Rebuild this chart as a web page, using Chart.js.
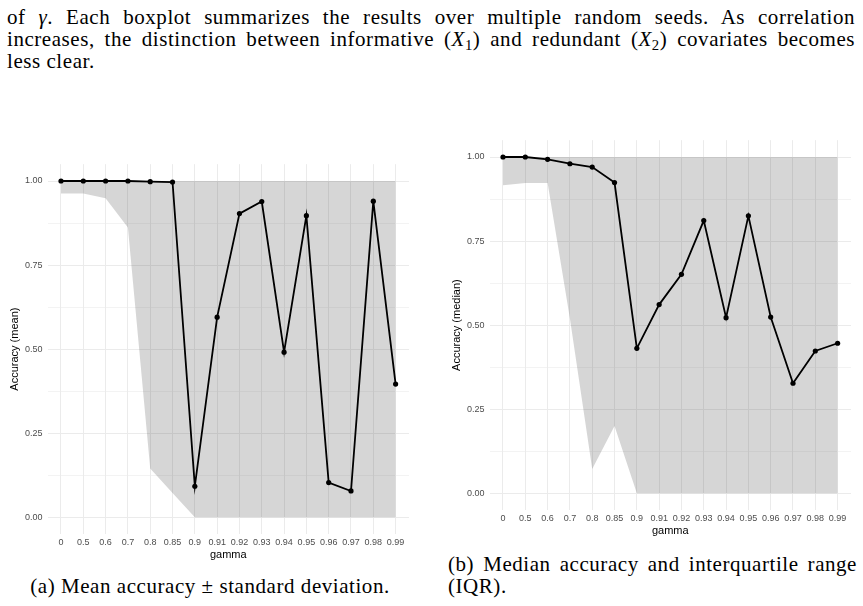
<!DOCTYPE html>
<html>
<head>
<meta charset="utf-8">
<script src="https://cdn.jsdelivr.net/npm/chart.js@4"></script>
<style>
  html, body { margin: 0; padding: 0; background: #fff; overflow: hidden; }
  body { width: 863px; height: 606px; position: relative; font-family: "Liberation Serif", serif; font-size: 21px; color: #000; }
  .txt { position: absolute; line-height: 22px; letter-spacing: 0.55px; }
  .just { text-align: justify; text-align-last: justify; }
  sub { font-size: 0.7em; line-height: 0; vertical-align: baseline; position: relative; top: 0.28em; }
  canvas { position: absolute; }
</style>
</head>
<body>
<div class="txt" style="left:7px; top:6px; width:848px;">
  <div class="just">of <i>γ</i>. Each boxplot summarizes the results over multiple random seeds. As correlation</div>
  <div class="just">increases, the distinction between informative (<i>X</i><sub>1</sub>) and redundant (<i>X</i><sub>2</sub>) covariates becomes</div>
  <div>less clear.</div>
</div>

<canvas id="meanChart" width="421" height="424" style="left:0; top:140px;"></canvas>
<canvas id="medianChart" width="421" height="424" style="left:442px; top:116px;"></canvas>

<div class="txt" style="left:10px; top:575px; width:400px; text-align:center;">(a) Mean accuracy ± standard deviation.</div>
<div class="txt" style="left:448px; top:553px; width:409px;">
  <div class="just">(b) Median accuracy and interquartile range</div>
  <div>(IQR).</div>
</div>

<script>
const gammaLabels = ['0', '0.5', '0.6', '0.7', '0.8', '0.85', '0.9', '0.91', '0.92', '0.93', '0.94', '0.95', '0.96', '0.97', '0.98', '0.99'];

// (a) mean accuracy, ribbon = mean +/- sd clipped to [0, 1]
const meanAcc   = [1.00, 1.00, 1.00, 1.00, 0.998, 0.997, 0.092, 0.595, 0.903, 0.939, 0.491, 0.897, 0.103, 0.078, 0.940, 0.396];
const meanLower = [0.963, 0.963, 0.949, 0.862, 0.145, 0.072, 0, 0, 0, 0, 0, 0, 0, 0, 0, 0];
const meanUpper = [1, 1, 1, 1, 1, 1, 1, 1, 1, 1, 1, 1, 1, 1, 1, 1];

// (b) median accuracy, ribbon = IQR
const medianAcc = [1.00, 1.00, 0.993, 0.980, 0.970, 0.924, 0.431, 0.561, 0.651, 0.811, 0.522, 0.825, 0.524, 0.327, 0.423, 0.446];
const iqrLower  = [0.916, 0.923, 0.923, 0.52, 0.072, 0.20, 0, 0, 0, 0, 0, 0, 0, 0, 0, 0];
const iqrUpper  = [1, 1, 1, 1, 1, 1, 1, 1, 1, 1, 1, 1, 1, 1, 1, 1];

const yMajor = [0, 0.25, 0.5, 0.75, 1];
const yAll = [0, 0.125, 0.25, 0.375, 0.5, 0.625, 0.75, 0.875, 1];

Chart.defaults.font.family = "'Liberation Sans', Arial, sans-serif";

function pts(vals) {
  return vals.map((v, i) => ({ x: i, y: v }));
}

function makeChart(id, yTitle, centre, lower, upper) {
  new Chart(document.getElementById(id), {
    type: 'line',
    data: {
      datasets: [
        {
          data: pts(centre),
          borderColor: '#000',
          backgroundColor: '#000',
          borderWidth: 1.8,
          pointRadius: 2.6,
          pointBorderWidth: 0,
          pointBackgroundColor: '#000',
          fill: false
        },
        { data: pts(upper), borderWidth: 0, pointRadius: 0, fill: false },
        { data: pts(lower), borderWidth: 0, pointRadius: 0, fill: '-1', backgroundColor: 'rgba(51,51,51,0.2)' }
      ]
    },
    options: {
      responsive: false,
      animation: false,
      devicePixelRatio: 1,
      layout: { padding: { top: 24.2, right: 12, bottom: 0, left: 0 } },
      plugins: { legend: { display: false }, tooltip: { enabled: false } },
      scales: {
        x: {
          type: 'linear',
          min: -0.6,
          max: 15.6,
          afterBuildTicks: s => { s.ticks = gammaLabels.map((_, i) => ({ value: i })); },
          afterFit: s => { s.height = 30; },
          grid: { color: '#ebebeb', lineWidth: 1, drawTicks: false },
          border: { display: false },
          ticks: {
            padding: 3,
            color: '#4d4d4d',
            font: { size: 9 },
            maxRotation: 0,
            autoSkip: false,
            callback: v => gammaLabels[v]
          },
          title: { display: true, text: 'gamma', color: '#000', font: { size: 11 }, padding: { top: 0, bottom: 2.4 } }
        },
        y: {
          min: -0.05,
          max: 1.05,
          afterBuildTicks: s => { s.ticks = yAll.map(v => ({ value: v })); },
          afterFit: s => { s.width = 47.6; },
          grid: {
            color: '#ebebeb',
            lineWidth: ctx => (ctx.tick && yMajor.includes(ctx.tick.value)) ? 1 : 0.6,
            drawTicks: false
          },
          border: { display: false },
          ticks: {
            padding: 5,
            color: '#4d4d4d',
            font: { size: 9 },
            callback: v => yMajor.includes(v) ? v.toFixed(2) : ''
          },
          title: { display: true, text: yTitle, color: '#000', font: { size: 11 }, padding: { top: 8, bottom: 0 } }
        }
      }
    }
  });
}

makeChart('meanChart', 'Accuracy (mean)', meanAcc, meanLower, meanUpper);
makeChart('medianChart', 'Accuracy (median)', medianAcc, iqrLower, iqrUpper);
</script>
</body>
</html>
